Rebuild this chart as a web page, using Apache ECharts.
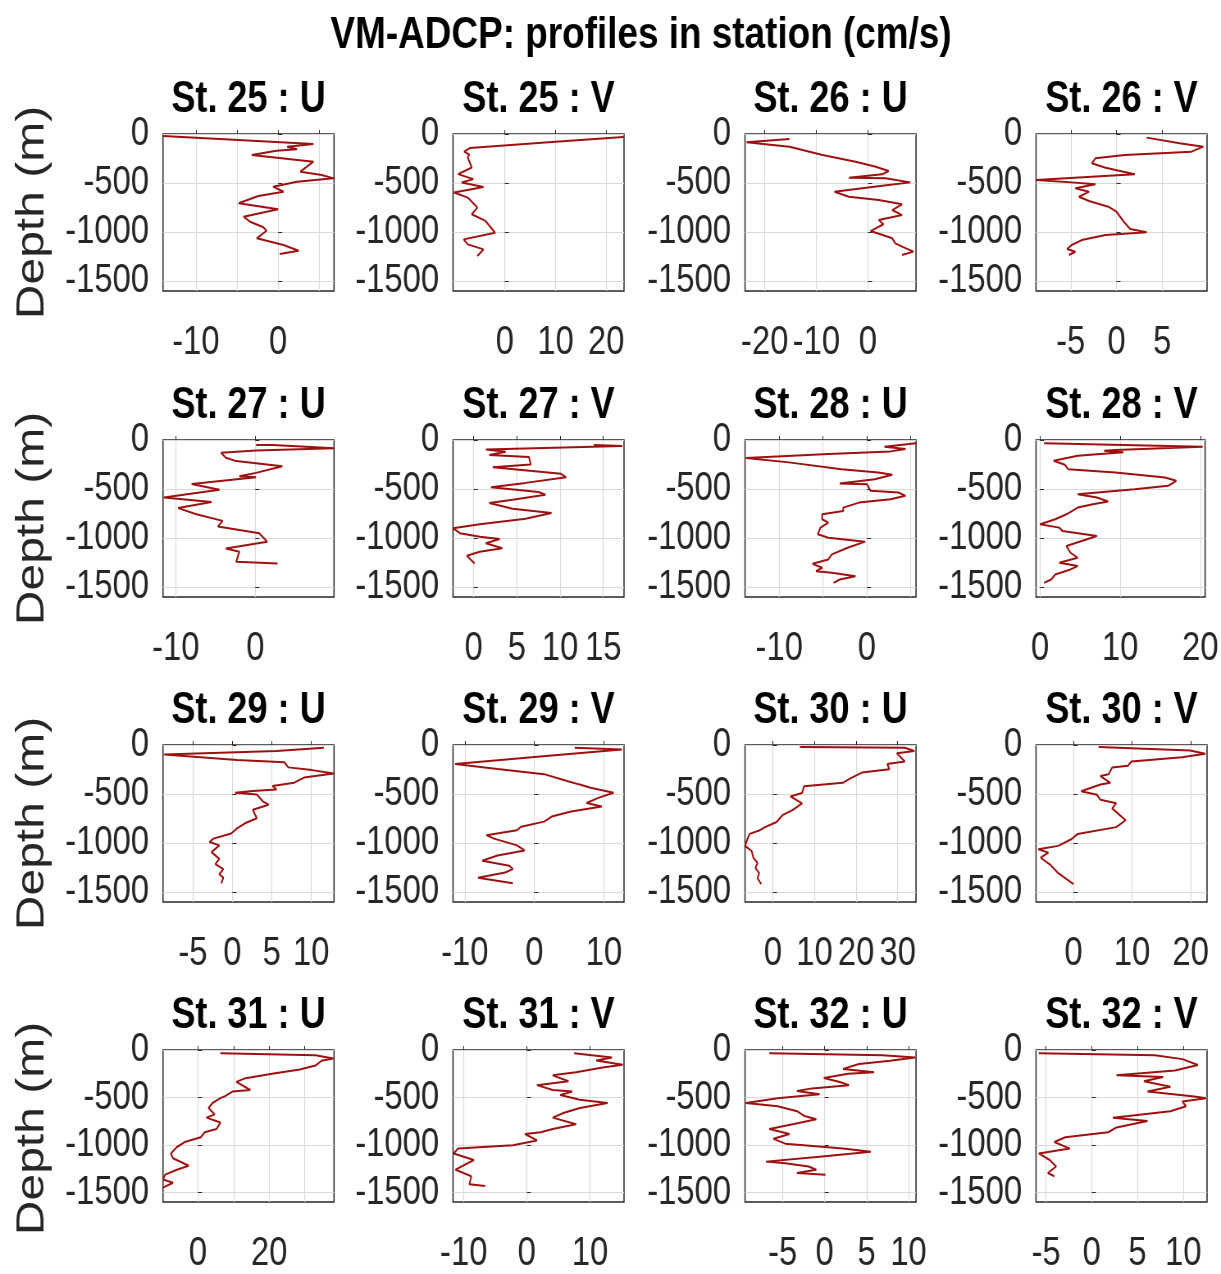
<!DOCTYPE html>
<html>
<head>
<meta charset="utf-8">
<title>VM-ADCP profiles</title>
<script src="https://cdn.jsdelivr.net/npm/echarts@6/dist/echarts.min.js"></script>
<style>
html, body { margin: 0; padding: 0; background: #fff; overflow: hidden; }
/* the figure is drawn wide and squeezed sideways, like the narrow lettering of the original */
#chart { width: 1489px; height: 1274px; transform: scaleX(0.82); transform-origin: 0 0; }
</style>
</head>
<body>
<div id="chart"></div>
<script>
// profiles, points are [velocity (cm/s), depth (m)]
var st25U = [[-14.0, -20], [-14.0, -34], [4.3, -102], [1.1, -129], [2.3, -156], [-0.2, -170], [-3.2, -214], [4.3, -282], [2.7, -384], [5.3, -418], [6.75, -452], [2.3, -486], [-0.6, -537], [0.65, -588], [-2.4, -632], [-4.8, -706], [0.0, -767], [-4.2, -843], [-3.4, -894], [-1.8, -951], [-1.4, -986], [-2.6, -1063], [0.65, -1131], [2.5, -1189], [0.2, -1223]]
var st25V = [[23.4, -30], [10.0, -80], [-6.9, -143], [-8.0, -180], [-7.0, -210], [-7.3, -239], [-6.5, -341], [-9.2, -409], [-6.2, -460], [-8.5, -494], [-4.2, -539], [-10.0, -597], [-7.3, -648], [-5.4, -750], [-6.5, -818], [-3.8, -886], [-1.9, -1006], [-8.1, -1074], [-7.3, -1125], [-4.2, -1176], [-5.4, -1244]]
var st26U = [[-15.2, -51], [-23.5, -85], [-15.2, -129], [-8.8, -214], [-2.4, -282], [1.5, -333], [4.0, -377], [2.75, -411], [-3.7, -445], [3.4, -452], [8.2, -493], [2.75, -527], [-6.5, -588], [-3.7, -639], [2.1, -673], [6.6, -717], [4.7, -775], [6.6, -826], [2.1, -877], [3.0, -920], [0.5, -989], [4.7, -1063], [5.3, -1114], [6.6, -1148], [8.8, -1199], [6.6, -1233]]
var st26V = [[3.3, -37], [6.9, -95], [9.5, -129], [8.2, -180], [0.9, -214], [-2.3, -248], [-2.7, -299], [-1.2, -343], [2.0, -411], [-2.7, -435], [-8.8, -469], [-4.9, -493], [-2.3, -513], [-4.5, -554], [-3.0, -588], [-4.1, -639], [-3.0, -683], [-0.9, -741], [0.0, -792], [0.8, -894], [1.5, -968], [3.3, -1002], [-1.2, -1030], [-3.8, -1081], [-4.9, -1131], [-5.4, -1172], [-4.5, -1200], [-5.2, -1233]]
var st27U = [[0.1, -51], [2.2, -51], [9.9, -85], [0.1, -106], [-4.3, -130], [-3.7, -181], [-2.4, -215], [3.4, -267], [0.1, -335], [-2.0, -369], [0.1, -379], [-8.0, -448], [-4.5, -506], [-11.5, -585], [-5.5, -632], [-9.7, -694], [-7.4, -756], [-4.1, -824], [-4.7, -882], [0.5, -950], [1.5, -1036], [-3.7, -1105], [-2.0, -1138], [-2.4, -1241], [2.8, -1258]]
var st27V = [[13.9, -51], [17.2, -62], [1.4, -96], [3.7, -120], [1.8, -154], [6.4, -174], [6.6, -250], [2.2, -277], [10.1, -345], [10.7, -380], [6.0, -437], [2.0, -482], [7.5, -530], [8.3, -557], [4.5, -608], [1.8, -643], [4.5, -701], [9.0, -745], [6.0, -803], [0.7, -858], [-2.4, -899], [-1.6, -950], [0.7, -985], [3.0, -1008], [1.4, -1053], [3.3, -1104], [0.7, -1138], [-0.8, -1179], [0.1, -1258]]
var st28U = [[5.6, -34], [2.0, -68], [4.4, -92], [2.7, -116], [-4.4, -143], [-13.8, -184], [-8.9, -228], [-2.9, -297], [1.3, -331], [2.9, -355], [0.9, -399], [-3.1, -443], [0.0, -450], [0.4, -518], [3.6, -535], [4.4, -569], [2.7, -603], [-0.9, -638], [-2.7, -689], [-2.7, -723], [-5.1, -757], [-5.1, -808], [-4.4, -842], [-5.3, -893], [-5.6, -961], [-4.4, -996], [-0.2, -1036], [-2.2, -1098], [-4.0, -1166], [-4.4, -1217], [-6.2, -1262], [-5.1, -1302], [-5.8, -1337], [-4.0, -1354], [-1.3, -1388], [-3.1, -1422], [-3.8, -1456]]
var st28V = [[0.5, -34], [20.3, -68], [9.4, -102], [8.0, -109], [10.4, -126], [4.7, -160], [1.7, -211], [3.1, -252], [3.5, -297], [9.4, -331], [15.6, -382], [17.0, -416], [16.0, -467], [11.8, -501], [4.7, -552], [7.1, -586], [8.5, -627], [6.6, -655], [4.7, -689], [3.3, -757], [1.9, -808], [0.0, -859], [2.4, -893], [2.8, -928], [7.1, -979], [5.2, -1030], [3.3, -1081], [3.8, -1149], [4.7, -1200], [2.4, -1251], [4.7, -1285], [3.8, -1319], [1.9, -1371], [1.4, -1422], [0.5, -1456]]
var st29U = [[11.6, -28], [5.6, -62], [-8.65, -97], [0.6, -152], [6.6, -176], [7.1, -228], [10.1, -256], [12.85, -290], [9.1, -332], [7.85, -384], [5.1, -418], [5.6, -453], [2.6, -470], [0.35, -487], [3.1, -505], [3.85, -574], [4.6, -608], [2.6, -660], [3.1, -747], [1.6, -798], [0.6, -850], [-0.15, -902], [-2.4, -954], [-2.9, -989], [-1.65, -1023], [-2.65, -1092], [-1.65, -1161], [-2.15, -1213], [-1.15, -1265], [-1.65, -1317], [-1.15, -1352], [-1.4, -1410]]
var st29V = [[5.8, -28], [12.6, -45], [2.5, -107], [-11.4, -194], [-5.3, -245], [1.4, -297], [4.7, -366], [6.4, -401], [8.1, -435], [11.4, -487], [9.2, -539], [7.5, -591], [9.7, -626], [5.3, -677], [2.5, -729], [1.4, -781], [-1.9, -833], [-2.5, -868], [-6.9, -919], [-5.8, -954], [-2.5, -1023], [-1.4, -1075], [-5.3, -1127], [-7.5, -1179], [-3.6, -1231], [-3.1, -1265], [-4.2, -1300], [-8.1, -1352], [-3.1, -1410]]
var st30U = [[6.5, -21], [31.7, -28], [34.0, -62], [29.8, -83], [31.7, -167], [27.5, -194], [28.0, -247], [21.4, -281], [18.6, -340], [16.8, -385], [7.5, -420], [7.0, -490], [4.2, -524], [7.0, -594], [4.7, -663], [2.3, -715], [0.9, -785], [-1.9, -837], [-3.3, -872], [-5.6, -906], [-6.1, -958], [-6.7, -1028], [-5.1, -1080], [-4.7, -1149], [-3.7, -1201], [-4.2, -1253], [-3.3, -1306], [-3.7, -1358], [-2.8, -1417]]
var st30V = [[4.3, -21], [19.9, -56], [22.5, -90], [18.5, -125], [9.9, -167], [9.3, -212], [6.6, -229], [6.0, -299], [4.6, -316], [6.3, -385], [4.6, -403], [1.3, -472], [4.0, -507], [4.6, -559], [7.3, -594], [6.6, -646], [7.9, -715], [8.9, -767], [7.3, -837], [0.7, -906], [-0.3, -958], [-2.6, -1028], [-6.0, -1063], [-4.3, -1097], [-5.6, -1149], [-4.0, -1219], [-2.6, -1306], [0.0, -1417]]
var st31U = [[6.3, -34], [33.0, -55], [38.0, -89], [34.7, -113], [33.0, -164], [28.6, -205], [20.8, -250], [13.0, -301], [10.8, -336], [14.7, -421], [9.7, -438], [7.4, -490], [6.3, -507], [4.1, -558], [3.0, -610], [4.7, -678], [2.4, -712], [6.3, -764], [5.2, -832], [1.9, -866], [0.8, -918], [-3.7, -969], [-5.9, -1021], [-7.6, -1089], [-7.0, -1140], [-2.6, -1219], [-5.9, -1260], [-9.2, -1312], [-9.8, -1363], [-7.0, -1397], [-9.8, -1449]]
var st31V = [[7.5, -34], [10.3, -55], [13.5, -80], [11.0, -110], [15.2, -155], [12.0, -185], [7.8, -233], [4.1, -267], [6.6, -329], [1.6, -370], [4.1, -421], [7.2, -438], [5.3, -473], [8.4, -524], [12.8, -558], [8.4, -610], [5.9, -661], [4.1, -712], [7.8, -781], [4.1, -832], [2.2, -866], [-0.3, -884], [1.6, -952], [-2.2, -1003], [-10.9, -1038], [-11.6, -1089], [-8.4, -1158], [-11.3, -1260], [-8.8, -1329], [-9.1, -1414], [-6.6, -1432]]
var st32U = [[-6.6, -34], [6.9, -55], [10.8, -79], [7.8, -113], [4.1, -147], [2.2, -199], [5.9, -233], [2.8, -250], [-0.1, -295], [1.8, -336], [2.9, -370], [-1.5, -404], [-3.3, -432], [-0.6, -466], [-5.6, -507], [-9.4, -558], [-5.6, -592], [-3.3, -644], [-2.4, -695], [-1.0, -729], [-3.8, -781], [-6.6, -832], [-4.2, -884], [-6.1, -935], [-4.7, -986], [2.2, -1038], [5.5, -1072], [-0.6, -1123], [-7.0, -1175], [-4.7, -1192], [-1.9, -1226], [-1.0, -1260], [-3.3, -1295], [0.1, -1312]]
var st32V = [[-5.8, -34], [6.9, -55], [9.9, -96], [11.6, -158], [9.1, -216], [2.7, -267], [7.8, -284], [5.7, -329], [8.6, -387], [6.1, -438], [11.2, -490], [12.5, -507], [9.9, -541], [10.3, -592], [8.6, -644], [4.0, -695], [2.3, -712], [6.1, -747], [2.7, -815], [1.8, -866], [-2.9, -918], [-4.1, -969], [-2.4, -1038], [-5.8, -1089], [-4.6, -1158], [-3.9, -1226], [-4.8, -1295], [-4.1, -1329]]

var profiles = [st25U, st25V, st26U, st26V, st27U, st27V, st28U, st28V, st29U, st29V, st30U, st30V, st31U, st31V, st32U, st32V]
var panelNames = ['St. 25 : U', 'St. 25 : V', 'St. 26 : U', 'St. 26 : V', 'St. 27 : U', 'St. 27 : V', 'St. 28 : U', 'St. 28 : V',
  'St. 29 : U', 'St. 29 : V', 'St. 30 : U', 'St. 30 : V', 'St. 31 : U', 'St. 31 : V', 'St. 32 : U', 'St. 32 : V']

// x limits (tight to each profile) and ticks
var xMins = [-14.0, -10.2, -23.8, -8.8, -11.6, -2.4, -13.9, -0.5, -8.8, -11.7, -6.7, -6.4, -9.8, -11.7, -9.5, -6.1]
var xMaxs = [6.8, 23.5, 9.3, 9.9, 9.9, 17.4, 5.6, 20.6, 12.9, 12.9, 34.4, 22.8, 38.2, 15.4, 10.9, 12.6]
var gridTicks = [[-10, -5, 0, 5], [0, 10, 20], [-20, -10, 0], [-5, 0, 5], [-10, 0], [0, 5, 10, 15], [-10, -5, 0, 5], [0, 10, 20],
  [-5, 0, 5, 10], [-10, 0, 10], [0, 10, 20, 30], [0, 10, 20], [0, 10, 20, 30], [-10, 0, 10], [-5, 0, 5, 10], [-5, 0, 5, 10]]
var labelTicks = [[-10, 0], [0, 10, 20], [-20, -10, 0], [-5, 0, 5], [-10, 0, 10], [0, 5, 10, 15], [-10, 0], [0, 10, 20],
  [-5, 0, 5, 10], [-10, 0, 10], [0, 10, 20, 30], [0, 10, 20], [0, 20], [-10, 0, 10], [-5, 0, 5, 10], [-5, 0, 5, 10]]
var depthTicks = [0, -500, -1000, -1500]
var depthMin = -1600

var SQ = 0.82 // sideways squeeze applied by the css above
var FONT = "'Liberation Sans', Arial, sans-serif"
var colLeft = [163, 453, 745, 1036]
var rowTop = [134, 440, 745, 1050]
var boxW = 171
var boxH = 157

var chart = echarts.init(document.getElementById('chart'), null, { renderer: 'canvas' })

function plain(v) {
  return String(v)
}

var grids = []
var xAxes = []
var yAxes = []
var series = []
var texts = []

texts.push({
  type: 'text', x: 641 / SQ, y: 36,
  style: { text: 'VM-ADCP: profiles in station (cm/s)', align: 'center', verticalAlign: 'middle', fill: '#000', font: 'bold 45px ' + FONT }
})

for (var i = 0; i < 16; i++) {
  var r = Math.floor(i / 4)
  var c = i % 4
  grids.push({
    left: colLeft[c] / SQ, top: rowTop[r], width: boxW / SQ, height: boxH,
    show: true, borderColor: '#262626', borderWidth: 1.5, backgroundColor: '#fff'
  })
  xAxes.push({
    type: 'value', gridIndex: i, min: xMins[i], max: xMaxs[i],
    axisLine: { show: false },
    axisTick: { show: true, inside: true, length: 4, customValues: gridTicks[i], lineStyle: { color: '#262626' } },
    splitLine: { show: true, lineStyle: { color: '#dadada', width: 1.2 } },
    axisLabel: { customValues: labelTicks[i], hideOverlap: false, formatter: plain, margin: 32, color: '#262626', fontSize: 40, fontFamily: FONT }
  })
  yAxes.push({
    type: 'value', gridIndex: i, min: depthMin, max: 0,
    axisLine: { show: false },
    axisTick: { show: true, inside: true, length: 5, customValues: depthTicks, lineStyle: { color: '#262626' } },
    splitLine: { show: true, lineStyle: { color: '#dadada', width: 1 } },
    axisLabel: { customValues: depthTicks, hideOverlap: false, formatter: plain, margin: 17, color: '#262626', fontSize: 40, fontFamily: FONT }
  })
  series.push({
    type: 'line', xAxisIndex: i, yAxisIndex: i,
    data: profiles[i], showSymbol: false, silent: true,
    lineStyle: { color: '#9c1010', width: 2 }
  })
  texts.push({
    type: 'text', x: (colLeft[c] + boxW / 2) / SQ, y: rowTop[r] - 34,
    style: { text: panelNames[i], align: 'center', verticalAlign: 'middle', fill: '#000', font: 'bold 44px ' + FONT }
  })
  if (c === 0) {
    texts.push({
      type: 'text', x: 33 / SQ, y: rowTop[r] + boxH / 2, rotation: Math.PI / 2,
      style: { text: 'Depth (m)', align: 'center', verticalAlign: 'middle', fill: '#262626', font: '48px ' + FONT }
    })
  }
}

chart.setOption({
  animation: false,
  grid: grids,
  xAxis: xAxes,
  yAxis: yAxes,
  series: series,
  graphic: texts
})
</script>
</body>
</html>
